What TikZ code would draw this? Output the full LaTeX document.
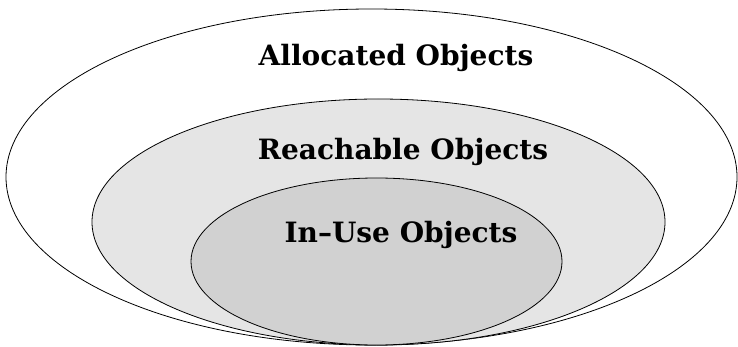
\documentclass[tikz,border=0pt]{standalone}
\usepackage{fontspec}
\setmainfont{DejaVu Serif}
\usetikzlibrary{shapes.geometric}

\begin{document}
\begin{tikzpicture}
[every node/.style={inner sep=0pt}]
\useasboundingbox (0pt, 0pt) rectangle (738pt, -347pt);
\node (allocated) [ellipse, minimum width=731pt, minimum height=336pt, fill=white, line width=0.8pt, draw=black] at (371.5pt, -177pt) {};
\node (reachable) [ellipse, minimum width=573pt, minimum height=246pt, fill=black!10, line width=0.8pt, draw=black] at (378.5pt, -222pt) {};
\node (inuse) [ellipse, minimum width=371pt, minimum height=167pt, fill=black!18, line width=0.8pt, draw=black] at (376.5pt, -261.5pt) {};
\node (allocatedlabel) at (396pt, -58pt) {\fontsize{28}{32}\selectfont\bfseries Allocated Objects};
\node (reachablelabel) at (403pt, -152pt) {\fontsize{28}{32}\selectfont\bfseries Reachable Objects};
\node (inuselabel) at (401pt, -235pt) {\fontsize{28}{32}\selectfont\bfseries In--Use Objects};
\end{tikzpicture}
\end{document}
